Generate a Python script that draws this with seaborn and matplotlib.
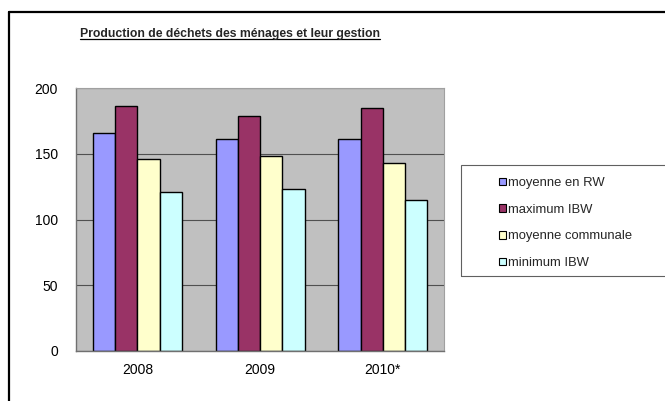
import matplotlib
matplotlib.use("Agg")
import matplotlib.pyplot as plt
import seaborn as sns
import pandas as pd
from matplotlib.lines import Line2D
from matplotlib.patches import Rectangle

years = ["2008", "2009", "2010*"]
series = ["moyenne en RW", "maximum IBW", "moyenne communale", "minimum IBW"]
moyenne_rw = [166, 161, 161]
maximum_ibw = [186, 179, 185]
moyenne_communale = [146, 148, 143]
minimum_ibw = [121, 123, 115]
colors = ["#9999FF", "#993366", "#FFFFCC", "#CCFFFF"]
title = "Production de déchets des ménages et leur gestion"

rows = []
for s, vals in zip(series, [moyenne_rw, maximum_ibw, moyenne_communale, minimum_ibw]):
    for y, v in zip(years, vals):
        rows.append({"year": y, "series": s, "value": v})
df = pd.DataFrame(rows)

sns.set_theme(style="white")
plt.rcParams["font.family"] = ["Liberation Sans", "DejaVu Sans"]

W, H = 665, 401
fig = plt.figure(figsize=(W / 100, H / 100), dpi=100)
fig.patch.set_facecolor("white")
ax = fig.add_axes([76 / W, 1 - 351 / H, (444.3 - 76) / W, (351 - 88) / H])
ax.set_facecolor("#C0C0C0")

sns.barplot(data=df, x="year", y="value", hue="series", order=years,
            hue_order=series, palette=colors, width=0.725,
            edgecolor="black", linewidth=1.0, saturation=1, ax=ax,
            legend=False, errorbar=None)

ax.set_xlim(-0.5, 2.5)
ax.set_ylim(0, 200)
ax.set_yticks([0, 50, 100, 150, 200])
ax.set_yticklabels(["0", "50", "100", "150", "200"], fontsize=10)
ax.set_xticks([0, 1, 2])
ax.set_xticklabels(years, fontsize=10)
ax.set_xticks([-0.5, 0.5, 1.5, 2.5], minor=True)
ax.tick_params(axis="x", which="major", length=0, pad=9, colors="black")
ax.tick_params(axis="x", which="minor", length=5, width=0.8, color="#707070", direction="out")
ax.tick_params(axis="y", which="major", length=5, width=0.8, color="#707070", direction="out", pad=8)
ax.tick_params(axis="y", labelcolor="black")
ax.set_xlabel("")
ax.set_ylabel("")
ax.yaxis.grid(True, color="#505050", linewidth=0.8)
ax.set_axisbelow(True)
for side in ["top", "right"]:
    ax.spines[side].set_color("#A0A0A0")
    ax.spines[side].set_linewidth(0.8)
for side in ["left", "bottom"]:
    ax.spines[side].set_color("#707070")
    ax.spines[side].set_linewidth(1.0)

# Legend
handles = [Rectangle((0, 0), 1, 1, facecolor=c, edgecolor="black", linewidth=0.8) for c in colors]
leg = fig.legend(handles, series, loc="upper left",
                 bbox_to_anchor=(494 / W, 1 - 172 / H), frameon=False,
                 fontsize=9.4, handlelength=0.5, handleheight=0.5,
                 handletextpad=0.2, labelspacing=1.12, borderaxespad=0)
fig.add_artist(Rectangle((461 / W, 1 - 275.7 / H), (W + 30 - 461) / W, (275.7 - 165) / H,
                         transform=fig.transFigure, facecolor="none",
                         edgecolor="#606060", linewidth=0.8, clip_on=False))

# Title with underline
t = fig.text(229.5 / W, 1 - 34 / H, title, ha="center", va="center",
             fontsize=8.8, fontweight="bold")
fig.canvas.draw()
bb = t.get_window_extent(renderer=fig.canvas.get_renderer())
inv = fig.transFigure.inverted()
(x0, y0), (x1, y1) = inv.transform([(bb.x0, bb.y0), (bb.x1, bb.y1)])
fig.add_artist(Line2D([x0, x1], [y0 + 1.0 / H, y0 + 1.0 / H], transform=fig.transFigure,
                      color="black", linewidth=0.9))

# Outer frame (left and top edges visible)
fig.add_artist(Line2D([9 / W, 9 / W], [0, 1 - 12 / H], transform=fig.transFigure,
                      color="black", linewidth=1.6))
fig.add_artist(Line2D([9 / W, 1.0], [1 - 12 / H, 1 - 12 / H], transform=fig.transFigure,
                      color="black", linewidth=1.6))

fig.savefig("out.png", dpi=100)
